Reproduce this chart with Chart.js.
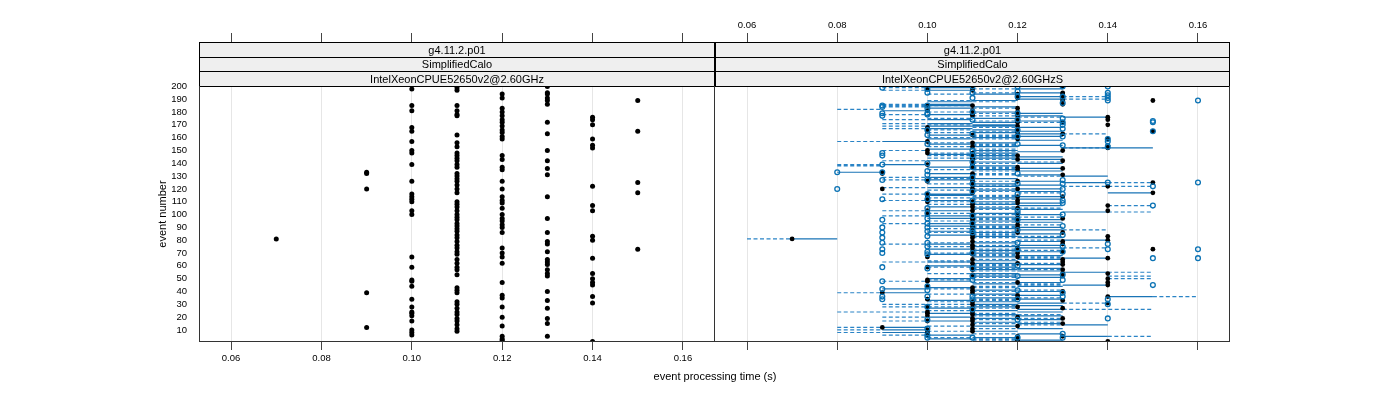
<!DOCTYPE html>
<html>
<head>
<meta charset="utf-8">
<script src="https://cdn.jsdelivr.net/npm/chart.js@4.4.0/dist/chart.umd.min.js"></script>
<style>
  body { margin: 0; background: #fff; width: 1400px; height: 400px; position: relative; overflow: hidden;
         font-family: "Liberation Sans", Arial, sans-serif; }
  #left { position: absolute; left: 0; top: 0; }
  #right { position: absolute; left: 714px; top: 0; }
  #xtitle { position: absolute; top: 370px; left: 515px; width: 400px; text-align: center; font-size: 11px; color: #000; }
</style>
</head>
<body>
<canvas id="left" width="716" height="400" style="width:716px;height:400px"></canvas>
<canvas id="right" width="686" height="400" style="width:686px;height:400px"></canvas>
<div id="xtitle">event processing time (s)</div>
<script>
// strip labels for each panel
const leftStrips = ["g4.11.2.p01", "SimplifiedCalo", "IntelXeonCPUE52650v2@2.60GHz"];
const rightStrips = ["g4.11.2.p01", "SimplifiedCalo", "IntelXeonCPUE52650v2@2.60GHzS"];

const xTickValues = [0.06, 0.08, 0.10, 0.12, 0.14, 0.16];
const yTickValues = [10, 20, 30, 40, 50, 60, 70, 80, 90, 100, 110, 120, 130, 140, 150, 160, 170, 180, 190, 200];

// processing time buckets (in 1/100 s) and the event numbers that fall in each
const leftTimes = [7, 9, 10, 11, 12, 13, 14, 15];
const leftEvents = [
  [81],
  [133, 132, 120, 39, 12],
  [198, 185, 181, 168, 165, 157, 150, 148, 139, 126, 116, 114, 112, 110, 103, 100, 67, 59, 49, 48, 44, 34, 28, 24, 23, 21, 17, 10, 8, 6],
  [199, 197, 185, 181, 178, 177, 162, 156, 153, 148, 146, 144, 142, 139, 137, 132, 130, 128, 126, 123, 120, 117, 110, 108, 106, 103, 100, 98,
   96, 93, 91, 89, 87, 84, 82, 79, 76, 74, 71, 69, 65, 62, 59, 57, 53, 43, 41, 39, 32, 30, 27, 24, 22, 19, 17, 14, 11, 9],
  [194, 191, 183, 180, 177, 174, 172, 169, 166, 164, 161, 159, 146, 143, 137, 135, 126, 120, 114, 111, 109, 105, 100, 97, 95, 92, 90, 86,
   74, 70, 67, 62, 47, 37, 35, 28, 20, 13, 5, 3, 2],
  [200, 195, 194, 191, 189, 186, 172, 163, 150, 142, 136, 131, 114, 97, 86, 79, 77, 71, 65, 63, 61, 57, 54, 52, 40, 33, 27, 19, 15, 5],
  [176, 174, 170, 159, 154, 152, 122, 107, 103, 83, 80, 66, 54, 50, 47, 45, 36, 31, 1],
  [189, 165, 125, 117, 73]
];

// second panel: open circles per time bucket
const rightTimes = [8, 9, 10, 11, 12, 13, 14, 15, 16];
const rightCircleEvents = [
  [133, 120],
  [199, 185, 184, 179, 177, 148, 146, 139, 133, 127, 112, 96, 90, 86, 82, 78, 73, 70, 59, 48, 42, 36, 34],
  [198, 195, 185, 183, 179, 178, 166, 162, 155, 140, 134, 131, 127, 116, 112, 105, 101, 97, 93, 90, 87, 83, 78, 75, 71, 69, 58, 44, 41, 36, 28, 18, 11, 6, 4],
  [200, 195, 191, 180, 174, 163, 150, 146, 141, 137, 129, 124, 118, 111, 99, 93, 88, 86, 70, 58, 52, 49, 36, 34, 26, 4],
  [200, 196, 192, 179, 174, 166, 161, 155, 132, 124, 116, 103, 101, 96, 88, 78, 73, 60, 52, 41, 34, 18, 4],
  [200, 192, 187, 175, 172, 170, 167, 161, 154, 127, 124, 120, 116, 111, 109, 100, 91, 84, 75, 71, 53, 49, 39, 36, 7, 4],
  [200, 195, 193, 191, 189, 159, 157, 153, 125, 77, 73, 34, 30, 19],
  [173, 172, 165, 122, 107, 66, 45],
  [189, 125, 73, 66]
];

// second panel: [event, from, to] in 1/100 s
const solidRanges = [
  [200,10,11],[199,10,11],[198,12,13],[197,10,11],[195,12,13],[194,11,12],[192,12,13],[190,12,13],[189,11,12],[188,10,11],
  [186,10,11],[185,10,11],[184,11,12],[183,10,11],[181,9,10],[180,11,12],[179,12,13],[178,10,11],[177,12,13],[176,13,14],
  [175,11,12],[174,10,11],[173,12,13],[172,11,12],[171,10,11],[170,11,12],[169,10,12],[168,12,13],[167,10,11],[166,11,12],
  [165,12,13],[164,11,12],[163,12,13],[162,10,11],[161,12,13],[160,11,12],[159,10,11],[158,12,13],[157,9,10],[156,11,12],
  [155,10,11],[154,12,13],[153,11,12],[152,13,15],[151,10,11],[150,11,12],[149,12,13],[148,11,12],[147,10,11],[146,11,12],
  [145,12,13],[144,11,12],[143,12,13],[142,10,11],[141,11,12],[140,12,13],[139,9,10],[138,11,12],[137,10,11],[136,12,13],
  [135,11,12],[134,12,13],[133,8,9],[132,10,11],[131,12,13],[130,13,14],[129,10,11],[128,11,12],[127,10,11],[126,12,13],
  [125,13,14],[124,11,12],[123,12,13],[122,11,12],[121,10,11],[120,12,13],[119,11,12],[118,12,13],[117,14,15],[116,10,11],
  [115,10,11],[114,12,13],[113,11,12],[112,12,13],[111,10,11],[110,11,12],[109,12,13],[108,11,12],[107,12,13],[106,10,11],
  [105,11,12],[104,12,13],[103,10,11],[102,13,14],[101,11,12],[100,12,13],[99,10,11],[98,11,12],[97,10,11],[96,12,13],
  [95,11,12],[94,12,13],[93,10,11],[92,11,12],[91,10,11],[90,12,13],[89,11,12],[88,12,13],[87,10,11],[86,11,12],
  [85,12,13],[84,10,11],[83,11,12],[82,12,13],[81,7,8],[80,13,14],[79,12,13],[78,11,12],[77,10,11],[76,12,13],
  [75,11,12],[74,12,13],[73,10,11],[72,11,12],[71,12,13],[70,11,12],[69,10,11],[68,12,13],[67,11,12],[66,13,14],
  [65,12,13],[64,11,12],[63,10,11],[62,11,12],[61,12,13],[60,10,11],[59,11,12],[58,12,13],[57,11,12],[56,12,13],
  [55,13,14],[54,11,12],[53,12,13],[52,11,12],[51,12,13],[50,10,11],[49,11,12],[48,10,11],[47,12,13],[46,11,12],
  [45,13,14],[44,12,13],[43,10,11],[42,9,10],[41,11,12],[40,12,13],[39,9,10],[38,11,12],[37,12,13],[36,14,15],
  [35,11,12],[34,12,13],[33,10,11],[32,11,12],[31,12,13],[30,11,12],[29,12,13],[28,11,12],[27,10,11],[26,12,13],
  [25,11,12],[24,12,13],[23,10,11],[22,11,12],[21,12,13],[20,10,11],[19,11,12],[18,12,13],[17,10,11],[16,11,12],
  [15,12,13],[14,13,14],[13,11,12],[12,9,10],[11,12,13],[10,9,10],[9,11,12],[8,9,10],[7,12,13],[6,10,11],
  [5,13,14],[4,11,12],[3,10,11],[2,12,13],[1,11,12]
];
const dashedRanges = [
  [200,9,10],[199,9,10],[198,11,12],[197,9,10],[195,11,12],[194,10,11],[192,13,14],[190,13,14],[189,10,11],[188,11,12],
  [186,9,10],[185,9,11],[184,9,10],[183,11,12],[182,8,9],[180,10,11],[179,11,12],[178,9,10],[177,11,12],[176,12,13],
  [175,10,11],[174,9,10],[173,11,12],[172,12,13],[171,9,10],[170,10,11],[169,9,10],[168,11,12],[167,9,10],[166,10,11],
  [165,11,12],[164,10,11],[163,13,14],[162,11,12],[161,11,12],[160,10,11],[159,11,12],[157,8,9],[156,10,11],[155,11,12],
  [154,11,12],[153,10,11],[152,13,14],[151,11,12],[150,9,10],[149,11,12],[148,10,11],[147,11,12],[146,10,11],[145,11,12],
  [144,10,11],[143,11,12],[142,9,10],[141,12,13],[140,11,12],[139,8,9],[138,8,9],[137,11,12],[136,11,12],[135,10,11],
  [134,11,12],[132,11,12],[131,11,12],[130,12,13],[129,9,10],[128,10,11],[127,9,10],[126,11,12],[125,14,15],[124,10,11],
  [123,11,12],[122,13,15],[121,9,10],[120,11,12],[119,10,11],[118,11,12],[117,12,13],[116,9,10],[115,11,12],[114,11,12],
  [113,10,11],[112,11,12],[111,9,10],[110,10,11],[109,11,12],[108,10,11],[107,14,15],[106,11,12],[105,12,13],[104,11,12],
  [103,9,10],[102,14,15],[101,10,11],[100,11,12],[99,9,10],[98,12,13],[97,11,12],[96,11,12],[95,10,11],[94,11,12],
  [93,9,10],[92,12,13],[91,11,12],[90,11,12],[89,10,11],[88,13,14],[87,11,12],[86,10,11],[85,11,12],[84,11,12],
  [83,12,13],[82,11,12],[81,6,7],[80,12,13],[79,11,12],[78,10,11],[77,9,10],[76,11,12],[75,10,11],[74,13,14],
  [73,11,12],[72,12,13],[71,11,12],[70,10,11],[69,11,12],[68,11,12],[67,12,13],[66,12,13],[65,11,12],[64,10,11],
  [63,9,11],[62,12,13],[61,11,12],[60,11,12],[59,10,11],[58,11,12],[57,12,13],[56,11,12],[55,14,15],[54,10,11],
  [53,11,12],[52,14,15],[51,11,12],[50,14,15],[49,10,11],[48,9,10],[47,11,12],[46,12,13],[45,12,13],[44,11,12],
  [43,11,12],[42,10,11],[41,12,13],[40,11,12],[39,8,9],[38,10,11],[37,11,12],[36,15,16],[35,12,13],[34,11,12],
  [33,11,12],[32,10,11],[31,13,14],[30,9,11],[29,11,12],[28,9,11],[27,11,12],[26,13,15],[25,10,11],[24,8,10],
  [23,11,12],[22,12,13],[21,11,12],[20,9,10],[19,12,13],[18,11,12],[17,9,10],[16,12,13],[15,11,12],[14,12,13],
  [13,10,11],[12,8,9],[11,11,12],[10,8,9],[9,10,11],[8,8,9],[7,11,12],[6,9,10],[5,14,15],[4,10,11],
  [3,11,12],[2,11,12],[1,12,13]
];

const xMin = 0.0529, xMax = 0.1671;
const yMin = 0.6, yMax = 200.3;

Chart.defaults.font.family = '"Liberation Sans", Arial, sans-serif';
Chart.defaults.font.size = 9.5;
Chart.defaults.color = '#000';

function bucketPoints(times, events) {
  const pts = [];
  times.forEach((t, i) => events[i].forEach(e => pts.push({ x: t / 100, y: e })));
  return pts;
}

function rangePoints(rows) {
  const pts = [];
  rows.forEach(([e, lo, hi]) => {
    pts.push({ x: lo / 100, y: e }, { x: hi / 100, y: e }, { x: hi / 100, y: null });
  });
  return pts;
}

// strips above the panel and the panel frame
const stripPlugin = {
  id: 'strips',
  afterDraw(chart, args, opts) {
    const { ctx, chartArea: a } = chart;
    const rows = opts.labels || [];
    const h = 44 / 3;
    ctx.save();
    rows.forEach((txt, i) => {
      const y0 = Math.round(a.top - (rows.length - i) * h);
      const y1 = Math.round(a.top - (rows.length - i - 1) * h);
      ctx.fillStyle = '#efefef';
      ctx.fillRect(a.left, y0, a.right - a.left, y1 - y0);
      ctx.strokeStyle = '#000';
      ctx.lineWidth = 1;
      ctx.strokeRect(a.left + 0.5, y0 + 0.5, a.right - a.left - 1, y1 - y0);
      ctx.fillStyle = '#000';
      ctx.font = '11px "Liberation Sans", Arial, sans-serif';
      ctx.textAlign = 'center';
      ctx.textBaseline = 'middle';
      ctx.fillText(txt, (a.left + a.right) / 2, (y0 + y1) / 2 + 1);
    });
    ctx.strokeStyle = '#333';
    ctx.beginPath();
    if (opts.leftEdge) { ctx.moveTo(a.left + 0.5, a.top); ctx.lineTo(a.left + 0.5, a.bottom); }
    ctx.moveTo(a.right - 0.5, a.top); ctx.lineTo(a.right - 0.5, a.bottom);
    ctx.moveTo(a.left, a.bottom - 0.5); ctx.lineTo(a.right, a.bottom - 0.5);
    ctx.stroke();
    ctx.restore();
  }
};

function makeScales(isLeft) {
  const fixTicks = vals => s => { s.ticks = vals.map(v => ({ value: v })); };
  return {
    x: {
      type: 'linear', position: 'bottom', min: xMin, max: xMax,
      afterBuildTicks: fixTicks(xTickValues),
      afterFit: s => { s.height = 58; s.paddingLeft = 0; s.paddingRight = 0; },
      border: { display: false },
      grid: { color: '#e6e6e6', tickColor: '#444', tickLength: 8 },
      ticks: { display: isLeft, padding: 3, maxRotation: 0, autoSkip: false, callback: v => v.toFixed(2) }
    },
    xTop: {
      type: 'linear', axis: 'x', position: 'top', min: xMin, max: xMax,
      afterBuildTicks: fixTicks(xTickValues),
      afterFit: s => { s.height = 86; s.paddingLeft = 0; s.paddingRight = 0; },
      border: { display: false },
      grid: { drawOnChartArea: false, tickColor: '#444', tickLength: 53 },
      ticks: { display: !isLeft, padding: 2, maxRotation: 0, autoSkip: false, callback: v => v.toFixed(2) }
    },
    y: {
      type: 'linear', position: 'left', min: yMin, max: yMax, display: isLeft,
      afterBuildTicks: fixTicks(yTickValues),
      afterFit: s => { if (isLeft) s.width = 199; s.paddingTop = 0; s.paddingBottom = 0; },
      border: { display: false },
      grid: { display: false },
      ticks: { padding: 4, autoSkip: false },
      title: { display: true, text: 'event number', font: { size: 11 }, padding: { top: 156, bottom: 0 } }
    }
  };
}

function baseOptions(isLeft, strips, padRight, padLeft) {
  return {
    responsive: false,
    animation: false,
    events: [],
    layout: { autoPadding: false, padding: { top: 0, bottom: 0, left: padLeft, right: padRight } },
    scales: makeScales(isLeft),
    plugins: {
      legend: { display: false }, tooltip: { enabled: false },
      strips: { labels: strips, leftEdge: isLeft }
    }
  };
}

const blackDots = bucketPoints(leftTimes, leftEvents);

new Chart(document.getElementById('left'), {
  type: 'scatter',
  data: {
    datasets: [{
      data: blackDots,
      backgroundColor: '#000', borderWidth: 0, pointRadius: 2.5
    }]
  },
  options: baseOptions(true, leftStrips, 1, 0),
  plugins: [stripPlugin]
});

// first dataset is drawn on top
new Chart(document.getElementById('right'), {
  type: 'scatter',
  data: {
    datasets: [
      { data: bucketPoints(rightTimes, rightCircleEvents), backgroundColor: 'rgba(255,255,255,0)',
        borderColor: '#0a72b4', borderWidth: 1.3, pointRadius: 2.4 },
      { data: blackDots, backgroundColor: '#000', borderWidth: 0, pointRadius: 2.4 },
      { data: rangePoints(solidRanges), showLine: true, pointRadius: 0,
        borderColor: '#1a74b6', borderWidth: 1.2, spanGaps: false },
      { data: rangePoints(dashedRanges), showLine: true, pointRadius: 0, borderDash: [4, 2.5],
        borderColor: '#2a84c6', borderWidth: 1.2, spanGaps: false }
    ]
  },
  options: baseOptions(false, rightStrips, 170, 1),
  plugins: [stripPlugin]
});
</script>
</body>
</html>
